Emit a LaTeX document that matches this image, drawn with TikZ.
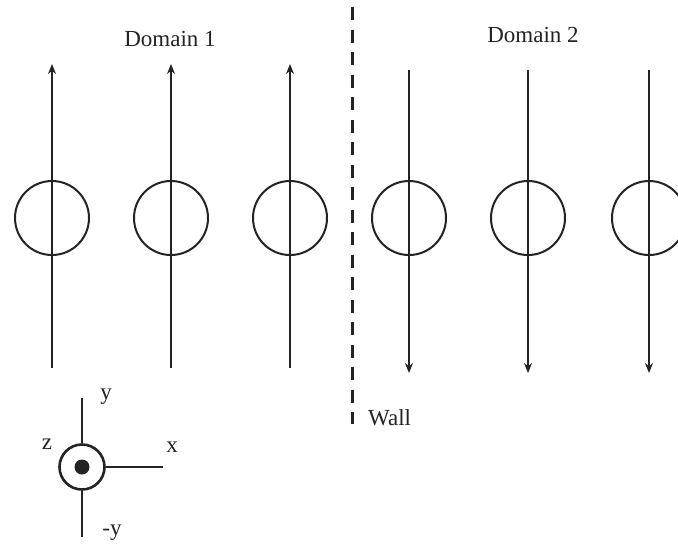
\documentclass[tikz,border=0pt]{standalone}
\usepackage{fontspec}
\setmainfont{Liberation Serif}
\usetikzlibrary{arrows.meta}
\definecolor{inkdark}{RGB}{35,35,35}

\begin{document}
\begin{tikzpicture}[
    x=1pt, y=-1pt,
    spin/.style={draw=inkdark, circle, line width=2pt, minimum size=74pt, inner sep=0pt},
    moment/.style={draw=inkdark, line width=2pt, -{Stealth[length=10pt, width=8pt]}},
    lbl/.style={font=\fontsize{23}{27}\selectfont, text=inkdark, inner sep=0pt},
    wallline/.style={draw=inkdark, line width=3pt, dash pattern=on 13pt off 9.5pt, dash phase=15.5pt},
    axis/.style={draw=inkdark, line width=2pt},
    axring/.style={draw=inkdark, circle, line width=2.6pt, minimum size=45pt, inner sep=0pt},
    axdot/.style={fill=inkdark, circle, minimum size=15pt, inner sep=0pt}
]
\useasboundingbox (0,0) rectangle (678,544);

% domain 1, moments up
\foreach \i/\x in {1/52, 2/171, 3/290}{
    \node[spin] (s\i) at (\x,218) {};
    \coordinate (s\i-top) at (\x,64);
    \coordinate (s\i-bot) at (\x,368);
    \draw[moment] (s\i-bot) -- (s\i-top);
}

% domain 2, moments down
\foreach \i/\x in {4/409, 5/528, 6/649}{
    \node[spin] (s\i) at (\x,218) {};
    \coordinate (s\i-top) at (\x,70);
    \coordinate (s\i-bot) at (\x,373);
    \draw[moment] (s\i-top) -- (s\i-bot);
}

% wall
\coordinate (wtop) at (352,0);
\coordinate (wbot) at (352,424);
\draw[wallline] (wtop) -- (wbot);

\node[lbl, anchor=base] (d1) at (170,46) {Domain 1};
\node[lbl, anchor=base] (d2) at (533,42) {Domain 2};
\node[lbl, anchor=base west] (wl) at (368,425) {Wall};

% axes
\node[axring] (ring) at (82,467) {};
\node[axdot] (dot) at (82,467) {};
\coordinate (ay) at (82,398);
\coordinate (amy) at (82,537);
\coordinate (ax) at (163,467);
\draw[axis] (ring.north) -- (ay);
\draw[axis] (ring.south) -- (amy);
\draw[axis] (ring.east) -- (ax);

\node[lbl] (ly) at (106,397) {y};
\node[lbl] (lmy) at (112,533) {-y};
\node[lbl] (lx) at (172,447) {x};
\node[lbl] (lz) at (47,444) {z};

\end{tikzpicture}
\end{document}
